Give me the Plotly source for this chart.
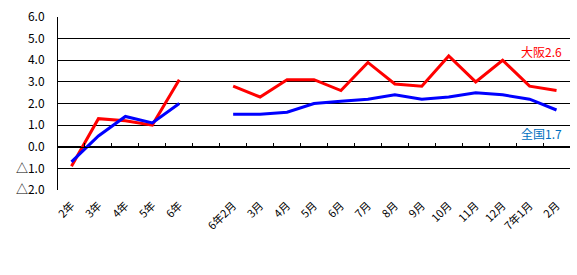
import plotly.graph_objects as go

categories = ["2年", "3年", "4年", "5年", "6年", " ",
              "6年2月", "3月", "4月", "5月", "6月", "7月", "8月", "9月", "10月",
              "11月", "12月", "7年1月", "2月"]
osaka = [-0.9, 1.3, 1.2, 1.0, 3.1, None,
         2.8, 2.3, 3.1, 3.1, 2.6, 3.9, 2.9, 2.8, 4.2, 3.0, 4.0, 2.8, 2.6]
zenkoku = [-0.7, 0.5, 1.4, 1.1, 2.0, None,
           1.5, 1.5, 1.6, 2.0, 2.1, 2.2, 2.4, 2.2, 2.3, 2.5, 2.4, 2.2, 1.7]
ytick_vals = [-2, -1, 0, 1, 2, 3, 4, 5, 6]
ytick_text = ["△2.0", "△1.0", "0.0", "1.0", "2.0", "3.0", "4.0", "5.0", "6.0"]

FONT = "Noto Sans CJK JP"

fig = go.Figure()
fig.add_trace(go.Scatter(x=categories, y=osaka, mode="lines", name="大阪",
                         line=dict(color="#FF0000", width=3), connectgaps=False))
fig.add_trace(go.Scatter(x=categories, y=zenkoku, mode="lines", name="全国",
                         line=dict(color="#0000FF", width=3), connectgaps=False))
# helper invisible trace on the zero-line axis
fig.add_trace(go.Scatter(x=categories, y=[None]*len(categories), xaxis="x2",
                         mode="lines", showlegend=False, hoverinfo="skip"))

rng = [-0.5, len(categories) - 0.5]
fig.update_layout(
    width=577, height=275,
    margin=dict(l=58, r=7, t=15, b=85),
    paper_bgcolor="white", plot_bgcolor="white",
    showlegend=False,
    font=dict(family=FONT, size=11, color="black"),
    xaxis=dict(type="category", categoryorder="array", categoryarray=categories,
               range=rng, showgrid=False, showline=False, ticks="",
               tickangle=-45, ticklabelstandoff=6,
               tickfont=dict(family=FONT, size=11)),
    xaxis2=dict(type="category", categoryorder="array", categoryarray=categories,
                range=rng, overlaying="x", anchor="free", position=0.25,
                showline=True, linecolor="black", linewidth=1,
                ticks="inside", ticklen=4, tickcolor="black", tickson="boundaries",
                showticklabels=False, showgrid=False),
    yaxis=dict(range=[-2, 6], tickvals=ytick_vals, ticktext=ytick_text,
               showgrid=True, gridcolor="black", gridwidth=1,
               showline=True, linecolor="black", linewidth=1, zeroline=False,
               ticks="", ticklabelstandoff=10,
               tickfont=dict(family=FONT, size=12)),
)
fig.add_annotation(x=1, xref="paper", xanchor="right", xshift=-6, y=4.4, yref="y",
                   text="大阪2.6", showarrow=False,
                   font=dict(family=FONT, size=12, color="#FF0000"))
fig.add_annotation(x=1, xref="paper", xanchor="right", xshift=-6, y=0.6, yref="y",
                   text="全国1.7", showarrow=False,
                   font=dict(family=FONT, size=12, color="#0070C0"))
fig.write_html("out.html")
